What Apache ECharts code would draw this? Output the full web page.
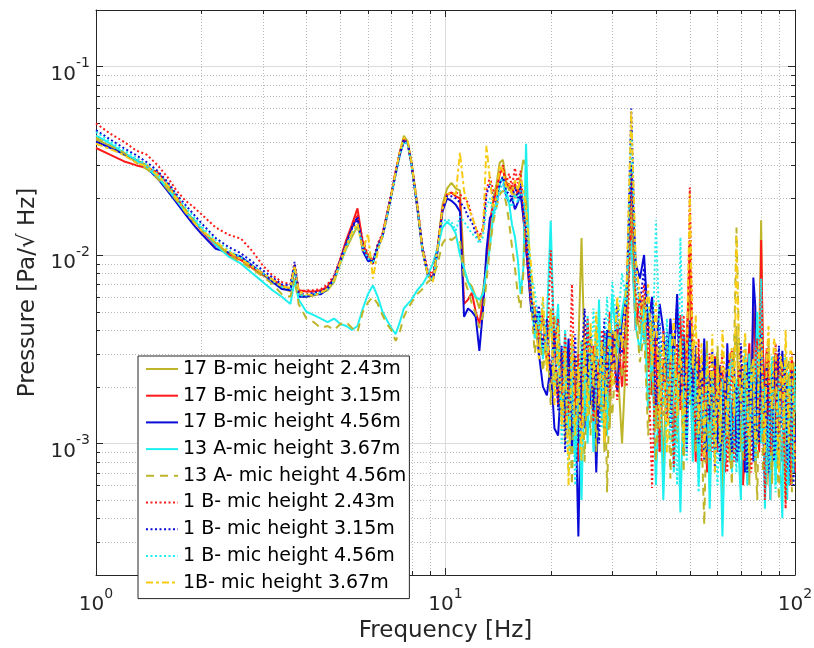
<!DOCTYPE html>
<html><head><meta charset="utf-8">
<script src="https://cdn.jsdelivr.net/npm/echarts@6/dist/echarts.min.js"></script>
<style>html,body{margin:0;padding:0;background:#fff}#c{width:814px;height:648px}</style>
</head><body><div id="c"></div>
<script>
// ---------- data (Hz, Pa/sqrt(Hz)) ----------
const freq = [1.0,1.1,1.2,1.3,1.4,1.5,1.6,1.7,1.8,1.9,2.0,2.2,2.4,2.6,2.8,3.0,3.2,3.4,3.6,3.7,3.8,
4.0,4.2,4.4,4.6,4.8,5.0,5.2,5.4,5.6,5.8,6.0,6.2,6.4,6.6,6.8,7.0,7.2,7.4,7.6,7.8,
8.0,8.3,8.6,8.9,9.2,9.5,9.8,10.1,10.4,10.7,11.0,11.3,11.6,11.9,12.2,12.5,12.8,13.1,13.4,13.7,14.0,14.3,14.6,14.9,15.2,15.5,15.8,16.1,16.4,16.7,17.0,17.3,17.6,
18,18.5,19,19.5,20,20.5,21,21.5,22,22.5,23,23.5,24,24.5,25,25.5,26,26.5,27,27.5,28,28.5,29,29.5,30,
31,32,33,34,35,36,37,38,39,40,41,42,43,44,45,46,47,48,49,50,51,52,53,54,55,56,57,58,59,60,
61,62,63,64,65,66,67,68,69,70,71,72,73,74,75,76,77,78,79,80,81,82,83,84,85,86,87,88,89,90,91,92,93,94,95,96,97,98,99,100];

const names = ['17 B-mic height 2.43m','17 B-mic height 3.15m','17 B-mic height 4.56m','13 A-mic height 3.67m',
'13 A- mic height 4.56m','1 B- mic height 2.43m','1 B- mic height 3.15m','1 B- mic height 4.56m','1B- mic height 3.67m'];

const s1 = [41e-3,38e-3,34e-3,32e-3,30e-3,26e-3,23e-3,20e-3,17.5e-3,15e-3,13.8e-3,11.5e-3,10.2e-3,9.6e-3,8.5e-3,7.8e-3,7.3e-3,6.7e-3,6.4e-3,8.5e-3,6.2e-3,
6.0e-3,6.1e-3,6.3e-3,6.5e-3,7.2e-3,9.0e-3,10.8e-3,12.5e-3,14.2e-3,11.5e-3,10.0e-3,9.2e-3,11.0e-3,12.5e-3,16.0e-3,21e-3,27e-3,35e-3,43e-3,40e-3,
31e-3,18.5e-3,10.5e-3,7.8e-3,7.3e-3,11.0e-3,18.5e-3,22.5e-3,24.2e-3,22.5e-3,22e-3,8.3e-3,7.2e-3,6.8e-3,6.0e-3,5.2e-3,6.5e-3,8.8e-3,14e-3,20e-3,24e-3,31e-3,32e-3,25e-3,22e-3,23e-3,20e-3,22e-3,26e-3,32e-3,30e-3,10e-3,6.0e-3,
4.5e-3,3.2e-3,4.8e-3,2.6e-3,5.2e-3,2.0e-3,3.5e-3,1.4e-3,3.0e-3,1.1e-3,2.5e-3,0.9e-3,3.2e-3,12.3e-3,2.8e-3,1.3e-3,3.6e-3,1.8e-3,4.2e-3,1.5e-3,3.0e-3,0.9e-3,2.7e-3,1.2e-3,4.0e-3,
2.8e-3,1.0e-3,3.5e-3,22e-3,5.5e-3,3.8e-3,6.0e-3,2.4e-3,4.5e-3,1.2e-3,3.3e-3,0.7e-3,2.9e-3,1.5e-3,3.8e-3,1.1e-3,2.6e-3,0.9e-3,4.0e-3,6.5e-3,1.3e-3,3.1e-3,0.8e-3,2.4e-3,1.0e-3,3.5e-3,0.6e-3,2.2e-3,1.4e-3,3.0e-3,
1.8e-3,0.55e-3,1.9e-3,2.6e-3,0.8e-3,1.2e-3,3.0e-3,4.2e-3,1.6e-3,0.9e-3,2.0e-3,2.8e-3,1.1e-3,0.6e-3,2.4e-3,3.2e-3,0.7e-3,1.5e-3,3.4e-3,15.3e-3,
2.2e-3,1.1e-3,0.6e-3,3.4e-3,1.8e-3,0.7e-3,2.9e-3,2.5e-3,0.8e-3,1.2e-3,2.6e-3,3.0e-3,1.3e-3,0.5e-3,1.5e-3,2.2e-3,0.6e-3,0.9e-3,2.7e-3,1.6e-3];

const s2 = [37e-3,34e-3,31.5e-3,30e-3,29e-3,27.5e-3,24e-3,20.5e-3,17e-3,15.5e-3,13.5e-3,11.2e-3,10.0e-3,9.4e-3,8.6e-3,7.9e-3,7.4e-3,6.9e-3,6.6e-3,8.8e-3,6.5e-3,
6.4e-3,6.4e-3,6.5e-3,6.8e-3,7.6e-3,9.5e-3,12e-3,14.5e-3,17.7e-3,11.5e-3,9.5e-3,9.0e-3,11.2e-3,12.8e-3,16.5e-3,21e-3,27.5e-3,35e-3,41e-3,39e-3,
30e-3,18e-3,10.5e-3,8.0e-3,7.6e-3,10.8e-3,17.5e-3,21e-3,21.5e-3,20.5e-3,20e-3,5.5e-3,5.8e-3,6.3e-3,5.0e-3,4.3e-3,5.8e-3,9.5e-3,15e-3,19e-3,22e-3,27e-3,29e-3,23e-3,24e-3,21e-3,24e-3,21e-3,23e-3,16e-3,11e-3,7.5e-3,5.2e-3,
5.0e-3,3.8e-3,3.5e-3,4.2e-3,2.1e-3,3.6e-3,1.6e-3,3.0e-3,1.2e-3,2.6e-3,1.0e-3,2.2e-3,0.8e-3,3.0e-3,1.5e-3,4.6e-3,2.0e-3,3.3e-3,1.2e-3,2.8e-3,1.6e-3,3.9e-3,2.2e-3,5.0e-3,2.6e-3,
4.4e-3,2.0e-3,5.6e-3,14e-3,4.0e-3,6.2e-3,3.5e-3,5.0e-3,1.8e-3,3.4e-3,0.9e-3,2.8e-3,1.4e-3,3.6e-3,1.0e-3,2.4e-3,4.8e-3,1.6e-3,3.0e-3,12e-3,2.2e-3,0.8e-3,2.6e-3,1.2e-3,3.2e-3,0.7e-3,2.1e-3,1.3e-3,2.9e-3,0.9e-3,
2.0e-3,2.4e-3,0.7e-3,1.1e-3,2.8e-3,3.1e-3,1.2e-3,0.8e-3,1.9e-3,2.6e-3,0.6e-3,1.0e-3,2.2e-3,3.4e-3,1.6e-3,5.5e-3,3.2e-3,1.4e-3,0.9e-3,12e-3,
3.0e-3,1.8e-3,3.2e-3,0.9e-3,0.5e-3,2.7e-3,1.0e-3,1.3e-3,3.0e-3,2.2e-3,0.9e-3,0.8e-3,2.0e-3,2.5e-3,0.7e-3,1.0e-3,2.4e-3,2.8e-3,1.2e-3,0.7e-3];

const s3 = [40e-3,37e-3,34.5e-3,32e-3,29e-3,25.5e-3,22e-3,19e-3,16.5e-3,14.5e-3,13.0e-3,10.8e-3,10.3e-3,9.8e-3,8.8e-3,8.0e-3,7.2e-3,6.6e-3,6.5e-3,8.6e-3,6.0e-3,
6.0e-3,6.2e-3,6.2e-3,6.6e-3,7.5e-3,9.3e-3,11.5e-3,14e-3,16e-3,10.5e-3,9.3e-3,9.3e-3,11.0e-3,12.5e-3,16e-3,21e-3,27e-3,34e-3,40e-3,39e-3,
30e-3,18e-3,10.5e-3,7.8e-3,7.3e-3,10.6e-3,17e-3,20e-3,19.4e-3,18.5e-3,17e-3,4.7e-3,5.2e-3,5.0e-3,4.7e-3,3.1e-3,5.1e-3,10.6e-3,15.8e-3,16.5e-3,19e-3,24e-3,26e-3,21e-3,19e-3,20e-3,17.5e-3,19e-3,21e-3,16e-3,11e-3,7.5e-3,5.0e-3,
5.2e-3,3.0e-3,2.0e-3,1.8e-3,2.6e-3,1.2e-3,1.1e-3,2.4e-3,1.5e-3,3.6e-3,0.9e-3,1.8e-3,0.32e-3,2.2e-3,1.2e-3,3.0e-3,1.6e-3,2.4e-3,0.7e-3,2.0e-3,3.4e-3,1.5e-3,4.0e-3,2.4e-3,3.8e-3,
1.9e-3,4.5e-3,6.5e-3,30e-3,9.0e-3,7.5e-3,10e-3,4.2e-3,6.0e-3,3.0e-3,5.5e-3,4.0e-3,2.2e-3,4.6e-3,2.7e-3,6.2e-3,1.8e-3,3.8e-3,1.3e-3,4.2e-3,2.0e-3,1.0e-3,2.9e-3,1.5e-3,3.6e-3,0.9e-3,2.4e-3,1.2e-3,2.8e-3,1.0e-3,
2.6e-3,2.0e-3,0.9e-3,3.4e-3,1.8e-3,1.3e-3,2.5e-3,0.8e-3,1.4e-3,2.4e-3,1.3e-3,0.7e-3,2.7e-3,1.9e-3,1.2e-3,7.6e-3,5.3e-3,1.0e-3,1.6e-3,2.6e-3,
1.3e-3,0.6e-3,1.9e-3,2.1e-3,0.9e-3,1.1e-3,2.0e-3,3.0e-3,1.8e-3,0.8e-3,1.7e-3,3.1e-3,1.4e-3,1.0e-3,2.3e-3,0.6e-3,1.5e-3,2.0e-3,0.8e-3,1.2e-3];

const s4 = [43e-3,39e-3,35e-3,32e-3,29e-3,26e-3,22.5e-3,19.5e-3,17e-3,15.5e-3,13.8e-3,11.3e-3,9.8e-3,9.0e-3,8.0e-3,7.2e-3,6.5e-3,6.0e-3,5.5e-3,7.3e-3,5.8e-3,
5.0e-3,4.8e-3,4.6e-3,4.4e-3,4.6e-3,4.3e-3,4.2e-3,4.0e-3,4.2e-3,5.2e-3,6.2e-3,6.9e-3,6.0e-3,5.0e-3,4.5e-3,4.1e-3,3.8e-3,4.4e-3,5.2e-3,5.5e-3,
5.8e-3,6.5e-3,7.0e-3,7.8e-3,9.0e-3,11e-3,14e-3,15e-3,14.3e-3,13e-3,10e-3,8.5e-3,7.2e-3,6.5e-3,6.0e-3,5.8e-3,6.2e-3,8.2e-3,11e-3,16.5e-3,19e-3,24e-3,26e-3,22e-3,19e-3,14.5e-3,12.5e-3,9.5e-3,6.2e-3,8.5e-3,39e-3,12e-3,6.0e-3,
3.6e-3,5.0e-3,2.8e-3,4.4e-3,15.2e-3,3.0e-3,5.5e-3,1.6e-3,4.0e-3,1.2e-3,3.4e-3,0.8e-3,2.0e-3,0.5e-3,2.6e-3,1.0e-3,3.2e-3,0.9e-3,2.2e-3,5.8e-3,1.4e-3,3.6e-3,1.1e-3,2.9e-3,6.2e-3,
3.0e-3,5.0e-3,7.0e-3,12e-3,4.2e-3,3.1e-3,5.2e-3,1.5e-3,3.2e-3,0.6e-3,2.5e-3,0.5e-3,1.9e-3,3.8e-3,0.7e-3,2.3e-3,0.43e-3,2.0e-3,1.0e-3,3.0e-3,0.8e-3,2.5e-3,0.6e-3,1.8e-3,0.9e-3,2.7e-3,0.45e-3,1.6e-3,0.8e-3,2.4e-3,
1.2e-3,0.32e-3,1.0e-3,1.5e-3,2.6e-3,0.7e-3,1.4e-3,2.2e-3,0.9e-3,0.5e-3,2.0e-3,1.8e-3,0.6e-3,3.0e-3,1.5e-3,0.9e-3,2.1e-3,5.0e-3,1.8e-3,1.0e-3,
2.2e-3,0.45e-3,0.9e-3,1.4e-3,0.5e-3,2.6e-3,1.3e-3,0.6e-3,1.6e-3,1.9e-3,0.7e-3,0.4e-3,1.8e-3,1.2e-3,0.5e-3,2.4e-3,1.4e-3,0.8e-3,2.1e-3,1.5e-3];

const s5 = [42e-3,38e-3,35e-3,31e-3,28.5e-3,25.5e-3,22.5e-3,19.5e-3,17.5e-3,15.2e-3,13.5e-3,11.6e-3,10.0e-3,9.2e-3,8.4e-3,7.7e-3,7.0e-3,6.2e-3,6.0e-3,7.5e-3,5.5e-3,
4.6e-3,4.4e-3,4.1e-3,4.2e-3,4.0e-3,4.3e-3,4.4e-3,4.1e-3,3.9e-3,5.0e-3,5.6e-3,6.0e-3,5.5e-3,4.8e-3,4.3e-3,4.0e-3,3.5e-3,3.9e-3,4.7e-3,5.2e-3,
5.6e-3,6.2e-3,6.6e-3,7.2e-3,7.5e-3,9.0e-3,11.5e-3,12.5e-3,12.0e-3,12.5e-3,12.0e-3,7.5e-3,6.5e-3,5.5e-3,4.9e-3,4.1e-3,4.8e-3,7.2e-3,11e-3,15e-3,18e-3,21e-3,22e-3,19e-3,15e-3,11e-3,8.5e-3,6.2e-3,5.2e-3,8.0e-3,20e-3,11e-3,5.5e-3,
3.0e-3,4.4e-3,2.4e-3,3.8e-3,1.6e-3,4.8e-3,2.0e-3,3.2e-3,1.0e-3,2.6e-3,0.6e-3,2.9e-3,1.3e-3,3.5e-3,0.8e-3,2.4e-3,1.1e-3,3.0e-3,0.9e-3,2.2e-3,1.3e-3,3.4e-3,0.55e-3,2.1e-3,1.4e-3,
3.8e-3,2.2e-3,4.6e-3,18e-3,5.0e-3,2.7e-3,4.0e-3,1.1e-3,3.0e-3,0.8e-3,2.6e-3,1.4e-3,3.5e-3,0.65e-3,2.4e-3,1.0e-3,3.2e-3,0.7e-3,2.8e-3,1.6e-3,3.9e-3,0.9e-3,2.2e-3,1.2e-3,0.37e-3,1.9e-3,0.8e-3,2.7e-3,1.1e-3,3.3e-3,
1.7e-3,1.0e-3,2.2e-3,2.5e-3,1.0e-3,0.6e-3,3.5e-3,14e-3,4.0e-3,1.3e-3,0.8e-3,2.9e-3,1.6e-3,0.7e-3,2.6e-3,2.0e-3,0.9e-3,0.5e-3,2.4e-3,3.2e-3,
0.7e-3,1.2e-3,3.0e-3,2.6e-3,1.1e-3,0.6e-3,2.0e-3,1.8e-3,0.8e-3,0.5e-3,1.9e-3,2.3e-3,0.9e-3,1.0e-3,2.6e-3,2.8e-3,1.2e-3,0.55e-3,1.8e-3,1.4e-3];

const s6 = [50e-3,44e-3,40e-3,36e-3,34e-3,30e-3,26e-3,22e-3,19.5e-3,18e-3,16.5e-3,14e-3,12.8e-3,12.2e-3,10.5e-3,8.8e-3,7.8e-3,7.2e-3,7.0e-3,9.0e-3,6.4e-3,
6.5e-3,6.5e-3,6.6e-3,7.0e-3,7.8e-3,9.5e-3,11.8e-3,14e-3,16.5e-3,12e-3,10e-3,9.4e-3,11.5e-3,13e-3,16.5e-3,21.5e-3,28e-3,35e-3,41e-3,39e-3,
30e-3,19e-3,11e-3,8.3e-3,7.9e-3,11.2e-3,17.5e-3,21e-3,21e-3,21.5e-3,21e-3,20e-3,19e-3,16e-3,14e-3,12.5e-3,14e-3,22e-3,26e-3,22e-3,21e-3,28e-3,30e-3,24e-3,27e-3,23e-3,29e-3,24e-3,28e-3,18e-3,12e-3,8.0e-3,5.5e-3,
5.5e-3,3.6e-3,5.0e-3,2.8e-3,10.6e-3,3.2e-3,4.6e-3,1.8e-3,3.8e-3,1.4e-3,7.0e-3,1.6e-3,3.0e-3,1.2e-3,4.2e-3,1.9e-3,3.4e-3,1.3e-3,2.9e-3,1.7e-3,4.0e-3,2.2e-3,3.3e-3,1.8e-3,3.8e-3,
1.7e-3,3.6e-3,2.0e-3,28e-3,6.5e-3,4.4e-3,7.0e-3,3.2e-3,0.58e-3,3.6e-3,0.9e-3,4.0e-3,1.3e-3,2.8e-3,0.75e-3,3.4e-3,1.5e-3,4.8e-3,1.2e-3,22.8e-3,3.0e-3,1.0e-3,3.6e-3,0.8e-3,2.2e-3,1.4e-3,3.0e-3,0.9e-3,2.6e-3,1.2e-3,
2.2e-3,3.0e-3,1.5e-3,0.7e-3,1.9e-3,2.4e-3,0.8e-3,1.0e-3,2.5e-3,3.2e-3,1.4e-3,0.8e-3,1.6e-3,2.1e-3,0.7e-3,1.3e-3,2.7e-3,3.6e-3,1.2e-3,1.9e-3,
3.1e-3,0.5e-3,1.6e-3,2.8e-3,0.9e-3,1.2e-3,2.2e-3,3.4e-3,1.5e-3,0.9e-3,2.0e-3,2.6e-3,1.1e-3,0.45e-3,1.4e-3,1.8e-3,0.6e-3,3.0e-3,1.7e-3,0.9e-3];

const s7 = [46e-3,41e-3,37e-3,34e-3,31e-3,28e-3,24.5e-3,21e-3,18.5e-3,16.5e-3,14.8e-3,12.3e-3,11e-3,10.2e-3,9.2e-3,8.3e-3,7.6e-3,7.0e-3,6.9e-3,9.2e-3,6.3e-3,
6.2e-3,6.3e-3,6.4e-3,6.7e-3,7.6e-3,9.4e-3,11.6e-3,13.8e-3,15.5e-3,11.2e-3,9.6e-3,9.1e-3,11.3e-3,12.6e-3,16.2e-3,21e-3,27e-3,34.5e-3,41e-3,39.5e-3,
30e-3,18.2e-3,10.8e-3,8.0e-3,7.5e-3,11e-3,17.2e-3,20.5e-3,20.5e-3,20e-3,19e-3,18e-3,16e-3,15e-3,13e-3,12e-3,13.5e-3,21e-3,24e-3,20e-3,19e-3,24e-3,26e-3,22e-3,21e-3,20e-3,23e-3,20e-3,24e-3,17e-3,14e-3,9.5e-3,6.0e-3,
4.0e-3,5.4e-3,3.2e-3,4.6e-3,2.2e-3,4.0e-3,1.5e-3,3.3e-3,0.9e-3,2.8e-3,1.3e-3,3.8e-3,1.0e-3,2.6e-3,5.2e-3,2.0e-3,3.8e-3,1.5e-3,3.2e-3,1.0e-3,2.5e-3,4.6e-3,1.9e-3,3.9e-3,2.4e-3,
5.4e-3,3.0e-3,6.0e-3,60e-3,8.0e-3,5.5e-3,8.5e-3,3.6e-3,5.8e-3,1.6e-3,4.4e-3,2.0e-3,3.9e-3,1.2e-3,3.0e-3,5.6e-3,1.8e-3,3.4e-3,0.9e-3,4.5e-3,1.6e-3,3.3e-3,1.0e-3,2.6e-3,0.8e-3,2.2e-3,1.3e-3,3.1e-3,0.7e-3,2.0e-3,
0.8e-3,1.2e-3,2.1e-3,2.8e-3,1.3e-3,0.9e-3,1.7e-3,2.0e-3,0.9e-3,3.4e-3,2.2e-3,1.1e-3,0.7e-3,2.5e-3,1.6e-3,0.8e-3,1.8e-3,2.2e-3,1.0e-3,3.8e-3,
2.4e-3,1.4e-3,2.6e-3,0.7e-3,1.5e-3,2.4e-3,0.8e-3,1.0e-3,2.2e-3,3.3e-3,1.2e-3,1.4e-3,2.7e-3,2.0e-3,0.9e-3,0.7e-3,1.9e-3,2.5e-3,0.6e-3,1.1e-3];

const s8 = [45e-3,40e-3,36e-3,33e-3,30e-3,27e-3,24e-3,20.5e-3,18e-3,16e-3,14.3e-3,12e-3,10.6e-3,9.7e-3,8.8e-3,8.0e-3,7.3e-3,6.8e-3,6.6e-3,8.4e-3,6.1e-3,
6.1e-3,6.2e-3,6.3e-3,6.6e-3,7.3e-3,9.0e-3,11e-3,13e-3,14.5e-3,11e-3,9.6e-3,9.0e-3,11e-3,12.4e-3,16e-3,20.5e-3,26.5e-3,34e-3,40e-3,38.5e-3,
29.5e-3,18e-3,10.4e-3,7.9e-3,7.4e-3,10.5e-3,15e-3,15.5e-3,15e-3,13.5e-3,16e-3,15e-3,14e-3,13e-3,12.5e-3,11.5e-3,12.5e-3,18e-3,20e-3,16e-3,18e-3,22e-3,24e-3,20e-3,19e-3,18e-3,21e-3,19e-3,22e-3,20e-3,16e-3,11e-3,7.5e-3,
6.5e-3,4.0e-3,5.8e-3,3.0e-3,4.6e-3,1.8e-3,3.6e-3,1.0e-3,2.8e-3,0.7e-3,2.2e-3,0.6e-3,1.8e-3,3.5e-3,1.4e-3,4.8e-3,2.1e-3,5.2e-3,2.6e-3,3.9e-3,1.2e-3,3.0e-3,6.0e-3,2.8e-3,7.2e-3,
4.0e-3,8.0e-3,5.4e-3,45e-3,7.6e-3,5.0e-3,3.4e-3,6.2e-3,2.4e-3,15.3e-3,3.6e-3,1.6e-3,4.6e-3,1.0e-3,3.2e-3,0.6e-3,12.4e-3,2.2e-3,0.8e-3,3.6e-3,1.4e-3,2.6e-3,0.55e-3,2.0e-3,1.2e-3,3.0e-3,0.7e-3,2.4e-3,1.5e-3,0.6e-3,
1.4e-3,2.2e-3,0.8e-3,1.0e-3,2.4e-3,3.0e-3,1.1e-3,0.7e-3,2.0e-3,1.8e-3,0.9e-3,3.6e-3,1.6e-3,0.9e-3,2.3e-3,2.6e-3,0.8e-3,1.2e-3,2.8e-3,7.5e-3,
1.5e-3,2.0e-3,0.7e-3,0.8e-3,2.1e-3,2.9e-3,1.0e-3,0.55e-3,1.4e-3,2.3e-3,0.8e-3,1.2e-3,2.4e-3,2.9e-3,1.0e-3,0.6e-3,2.2e-3,1.7e-3,0.7e-3,2.6e-3];

const s9 = [39e-3,36.5e-3,34e-3,31e-3,29.5e-3,26.5e-3,23.5e-3,20e-3,17e-3,15e-3,13.6e-3,11.8e-3,10.4e-3,9.5e-3,8.7e-3,8.0e-3,7.4e-3,6.8e-3,6.7e-3,8.8e-3,6.4e-3,
6.2e-3,6.1e-3,6.3e-3,6.6e-3,7.4e-3,9.2e-3,11.2e-3,13.2e-3,14.7e-3,10.5e-3,13.0e-3,7.5e-3,10.5e-3,12.6e-3,16.2e-3,21e-3,27.5e-3,35.5e-3,42e-3,40e-3,
30.5e-3,18.5e-3,10.6e-3,7.8e-3,7.2e-3,11e-3,17.5e-3,21e-3,21.5e-3,21e-3,35e-3,22e-3,18e-3,16e-3,14e-3,12e-3,13.5e-3,38e-3,25e-3,18e-3,20e-3,30e-3,28e-3,23e-3,24e-3,21e-3,25e-3,22e-3,26e-3,22e-3,18e-3,12e-3,8.5e-3,
5.0e-3,2.8e-3,6.0e-3,2.4e-3,5.0e-3,1.6e-3,4.2e-3,1.2e-3,3.2e-3,0.6e-3,3.8e-3,1.1e-3,2.6e-3,0.8e-3,3.6e-3,1.4e-3,4.4e-3,2.0e-3,5.0e-3,1.6e-3,3.5e-3,1.0e-3,2.6e-3,4.6e-3,2.0e-3,
6.0e-3,3.2e-3,7.5e-3,58e-3,9.5e-3,6.0e-3,4.0e-3,7.0e-3,2.6e-3,5.6e-3,1.2e-3,3.8e-3,0.9e-3,2.6e-3,4.6e-3,1.4e-3,3.6e-3,1.0e-3,2.8e-3,21e-3,2.5e-3,4.8e-3,1.1e-3,3.4e-3,0.8e-3,2.9e-3,1.6e-3,3.8e-3,0.7e-3,2.5e-3,
1.0e-3,4.0e-3,2.2e-3,1.1e-3,3.0e-3,3.2e-3,1.4e-3,12.5e-3,3.5e-3,1.5e-3,2.6e-3,3.9e-3,1.8e-3,0.8e-3,2.4e-3,2.8e-3,1.0e-3,1.2e-3,3.3e-3,3.6e-3,
1.7e-3,0.9e-3,2.8e-3,4.2e-3,2.0e-3,1.5e-3,3.6e-3,3.2e-3,1.3e-3,0.7e-3,2.9e-3,2.5e-3,1.2e-3,4.0e-3,2.1e-3,1.0e-3,3.1e-3,3.0e-3,1.4e-3,0.8e-3];

// ---------- axes ----------
const X_MIN = 1, X_MAX = 100, Y_MIN = 2e-4, Y_MAX = 0.2;
const xMinorTicks = [2,3,4,5,6,7,8,9,20,30,40,50,60,70,80,90];
const yMinorTicks = [3e-4,4e-4,5e-4,6e-4,7e-4,8e-4,9e-4,2e-3,3e-3,4e-3,5e-3,6e-3,7e-3,8e-3,9e-3,2e-2,3e-2,4e-2,5e-2,6e-2,7e-2,8e-2,9e-2];

const allValues = [s1,s2,s3,s4,s5,s6,s7,s8,s9];
const colors = ['#BFB52A','#FF1A1A','#0A0AD8','#1EF0F0','#BFB52A','#FF1A1A','#0A0AD8','#1EF0F0','#F8CC14'];
const dashes = ['solid','solid','solid','solid',[8,6],[2,2.5],[2,2.5],[2,2.5],[7,3,3,3]];

const FONT = 'DejaVu Sans';
const AX = '#262626';

function supLabel(value){
  const e = Math.log10(value);
  const r = Math.round(e);
  if (Math.abs(e - r) > 1e-6) return '';
  return '{b|10}{s|' + r + '}';
}
const rich = {
  b: {fontSize: 20, fontFamily: FONT, color: AX, lineHeight: 28, verticalAlign: 'bottom'},
  s: {fontSize: 14, fontFamily: FONT, color: AX, lineHeight: 14, verticalAlign: 'top'}
};

function crisp(v){ return Math.round(v) + 0.5; }

function minorXItem(params, api){
  const v = api.value(0);
  const a = api.coord([v, Y_MIN]), b = api.coord([v, Y_MAX]);
  const x = crisp(a[0]);
  return {type:'group', children:[
    {type:'line', shape:{x1:x,y1:a[1],x2:x,y2:b[1]}, style:{stroke:'#b9b9b9', lineWidth:1, lineDash:[1,2]}},
    {type:'line', shape:{x1:x,y1:a[1],x2:x,y2:a[1]-4}, style:{stroke:AX, lineWidth:1}},
    {type:'line', shape:{x1:x,y1:b[1],x2:x,y2:b[1]+4}, style:{stroke:AX, lineWidth:1}}
  ]};
}
function minorYItem(params, api){
  const v = api.value(1);
  const a = api.coord([X_MIN, v]), b = api.coord([X_MAX, v]);
  const y = crisp(a[1]);
  return {type:'group', children:[
    {type:'line', shape:{x1:a[0],y1:y,x2:b[0],y2:y}, style:{stroke:'#b9b9b9', lineWidth:1, lineDash:[1,2]}},
    {type:'line', shape:{x1:a[0],y1:y,x2:a[0]+4,y2:y}, style:{stroke:AX, lineWidth:1}},
    {type:'line', shape:{x1:b[0],y1:y,x2:b[0]-4,y2:y}, style:{stroke:AX, lineWidth:1}}
  ]};
}

const lineSeries = allValues.map((vals, k) => ({
  name: names[k],
  type: 'line',
  data: freq.map((f, i) => [f, vals[i]]),
  symbol: 'none',
  showSymbol: false,
  silent: true,
  z: 2,
  lineStyle: {color: colors[k], width: 2, type: dashes[k]},
  itemStyle: {color: colors[k]},
  emphasis: {disabled: true}
}));

const option = {
  backgroundColor: '#fff',
  animation: false,
  grid: {left: 96, right: 19, top: 10, bottom: 73, containLabel: false, outerBoundsMode: 'none'},
  xAxis: [
    {type: 'log', logBase: 10, min: X_MIN, max: X_MAX, position: 'bottom',
     axisLine: {show: true, lineStyle: {color: AX, width: 1}},
     axisTick: {show: true, inside: true, length: 7, lineStyle: {color: AX}},
     axisLabel: {formatter: supLabel, rich: rich, margin: 12, verticalAlign: 'top'},
     splitLine: {show: true, lineStyle: {color: '#dcdcdc', width: 1}},
     name: 'Frequency [Hz]', nameLocation: 'middle', nameGap: 40,
     nameTextStyle: {fontFamily: FONT, fontSize: 23, color: AX}},
    {type: 'log', logBase: 10, min: X_MIN, max: X_MAX, position: 'top',
     axisLine: {show: true, lineStyle: {color: AX, width: 1}},
     axisTick: {show: true, inside: true, length: 7, lineStyle: {color: AX}},
     axisLabel: {show: false}, splitLine: {show: false}}
  ],
  yAxis: [
    {type: 'log', logBase: 10, min: Y_MIN, max: Y_MAX, position: 'left',
     axisLine: {show: true, lineStyle: {color: AX, width: 1}},
     axisTick: {show: true, inside: true, length: 7, lineStyle: {color: AX}},
     axisLabel: {formatter: supLabel, rich: rich, margin: 6, padding: [8,0,0,0]},
     splitLine: {show: true, lineStyle: {color: '#dcdcdc', width: 1}},
     name: 'Pressure [Pa/√ Hz]', nameLocation: 'middle', nameGap: 54,
     nameTextStyle: {fontFamily: FONT, fontSize: 23, color: AX}},
    {type: 'log', logBase: 10, min: Y_MIN, max: Y_MAX, position: 'right',
     axisLine: {show: true, lineStyle: {color: AX, width: 1}},
     axisTick: {show: true, inside: true, length: 7, lineStyle: {color: AX}},
     axisLabel: {show: false}, splitLine: {show: false}}
  ],
  legend: {
    orient: 'vertical', left: 138, top: 356,
    data: names,
    itemWidth: 32, itemHeight: 14, itemGap: 6.7,
    padding: [3, 3, 6, 7],
    backgroundColor: '#fff', borderColor: AX, borderWidth: 1, borderRadius: 0,
    itemStyle: {opacity: 0},
    lineStyle: {opacity: 1},
    textStyle: {fontFamily: FONT, fontSize: 19, color: '#000', lineHeight: 20},
    selectedMode: false
  },
  series: [
    {type: 'custom', silent: true, z: 1, xAxisIndex: 0, yAxisIndex: 0, clip: false,
     data: xMinorTicks.map(v => [v, Y_MIN]), encode: {x: 0, y: 1}, renderItem: minorXItem},
    {type: 'custom', silent: true, z: 1, xAxisIndex: 0, yAxisIndex: 0, clip: false,
     data: yMinorTicks.map(v => [X_MIN, v]), encode: {x: 0, y: 1}, renderItem: minorYItem}
  ].concat(lineSeries)
};

const chart = echarts.init(document.getElementById('c'), null, {renderer: 'canvas'});
chart.setOption(option);
</script>
</body></html>
